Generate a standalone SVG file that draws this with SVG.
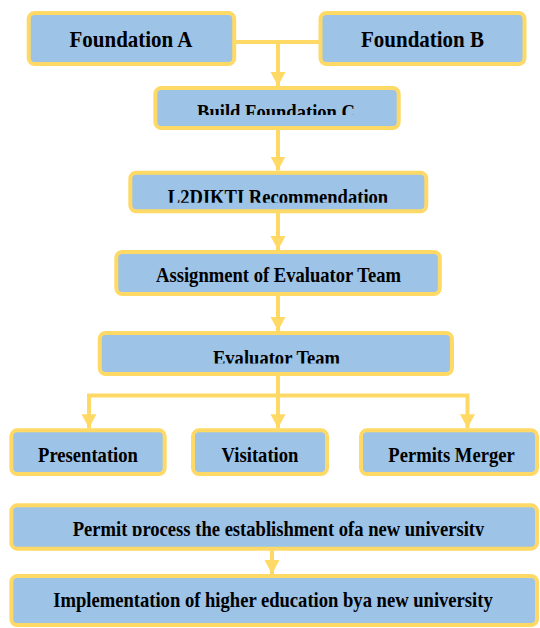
<svg xmlns="http://www.w3.org/2000/svg" width="540" height="628" viewBox="0 0 540 628">
<style>
.box{fill:#9DC3E6;stroke:#FFD966;stroke-width:4}
.t{font-family:"Liberation Serif","Times New Roman",serif;font-weight:bold;font-size:18.6px;fill:#000;text-anchor:middle}
.big{font-size:21px}
.con{fill:none;stroke:#FFD966;stroke-width:4}
</style>
<defs>
<marker id="ah" markerUnits="userSpaceOnUse" markerWidth="15" markerHeight="16" refX="14" refY="7.5" orient="auto" viewBox="0 0 15 15">
<path d="M0,0 L14,7.5 L0,15 z" fill="#FFD966"/>
</marker>
<clipPath id="cC"><rect x="0" y="88" width="540" height="27"/></clipPath>
<clipPath id="cL"><rect x="0" y="172" width="540" height="30.7"/></clipPath>
<clipPath id="cE"><rect x="0" y="333" width="540" height="30.5"/></clipPath>
<clipPath id="cP"><rect x="0" y="505" width="540" height="31"/></clipPath>
</defs>
<g id="connectors">
<path class="con" d="M236 42 H320"/>
<path class="con" d="M278 42 V86" marker-end="url(#ah)"/>
<path class="con" d="M278 130 V170.5" marker-end="url(#ah)"/>
<path class="con" d="M278 213 V250" marker-end="url(#ah)"/>
<path class="con" d="M278 296 V331" marker-end="url(#ah)"/>
<path class="con" d="M278 376 V428.3" marker-end="url(#ah)"/>
<path class="con" d="M278 395.5 H89 V428.3" marker-end="url(#ah)"/>
<path class="con" d="M278 395.5 H467.5 V428.3" marker-end="url(#ah)"/>
<path class="con" d="M272 550.5 V574" marker-end="url(#ah)"/>
</g>
<g id="foundationA"><rect class="box" x="28.7" y="13" width="205.5" height="51" rx="6"/><text class="t big" transform="translate(131 47.3) scale(1 1.09)">Foundation A</text></g>
<g id="foundationB"><rect class="box" x="320.5" y="13" width="204" height="51" rx="6"/><text class="t big" transform="translate(422.5 47.3) scale(1 1.09)">Foundation B</text></g>
<g id="buildC"><rect class="box" x="155.3" y="88" width="243.4" height="40" rx="6"/><g clip-path="url(#cC)"><text class="t" transform="translate(276 119) scale(1 1.09)">Build Foundation C</text></g></g>
<g id="l2dikti"><rect class="box" x="130.3" y="172.7" width="296" height="38.6" rx="6"/><g clip-path="url(#cL)"><text class="t" transform="translate(278 204) scale(1 1.09)">L2DIKTI Recommendation</text></g></g>
<g id="assignment"><rect class="box" x="116.3" y="252" width="323.5" height="42" rx="6"/><text class="t" transform="translate(278.5 281.7) scale(1 1.09)">Assignment of Evaluator Team</text></g>
<g id="evaluator"><rect class="box" x="99.7" y="333" width="352.3" height="41" rx="6"/><g clip-path="url(#cE)"><text class="t" transform="translate(276.5 364.5) scale(1 1.09)">Evaluator Team</text></g></g>
<g id="presentation"><rect class="box" x="11.3" y="430.3" width="153.4" height="43.7" rx="6"/><text class="t" transform="translate(88 461.5) scale(1 1.09)">Presentation</text></g>
<g id="visitation"><rect class="box" x="193" y="430.3" width="134" height="43.7" rx="6"/><text class="t" transform="translate(260 461.5) scale(1 1.09)">Visitation</text></g>
<g id="permitsMerger"><rect class="box" x="361" y="430.3" width="176" height="43.7" rx="6"/><text class="t" transform="translate(451.5 461.5) scale(1 1.09)">Permits Merger</text></g>
<g id="permitProcess"><rect class="box" x="11.3" y="505.3" width="525.7" height="43.4" rx="6"/><g clip-path="url(#cP)"><text class="t" transform="translate(278.5 536) scale(1 1.09)">Permit process the establishment ofa new university</text></g></g>
<g id="implementation"><rect class="box" x="11.3" y="576" width="525.7" height="49" rx="6"/><text class="t" transform="translate(273 606.7) scale(1 1.09)">Implementation of higher education bya new university</text></g>
</svg>
